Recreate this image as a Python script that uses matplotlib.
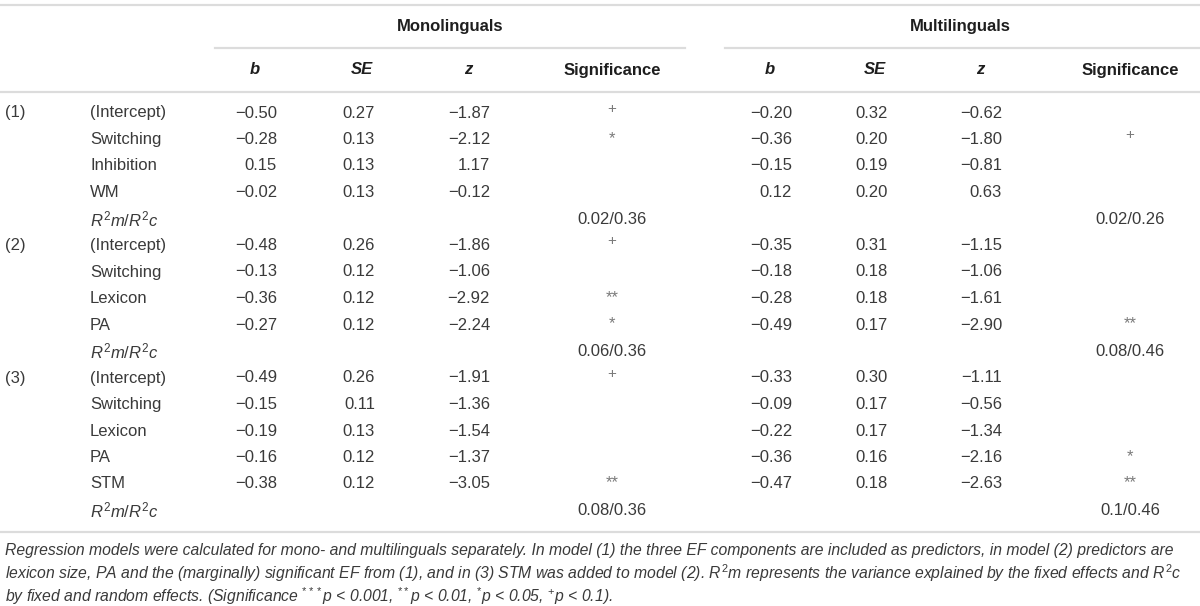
import matplotlib
matplotlib.use("Agg")
from matplotlib import pyplot as plt

plt.rcParams['font.family'] = ['Liberation Sans', 'DejaVu Sans']
plt.rcParams['mathtext.fontset'] = 'custom'
plt.rcParams['mathtext.rm'] = 'Liberation Sans'
plt.rcParams['mathtext.it'] = 'Liberation Sans:italic'
plt.rcParams['mathtext.bf'] = 'Liberation Sans:bold'

# table content
groups = ["Monolinguals", "Multilinguals"]
col_headers = ["b", "SE", "z", "Significance"]
model_labels = ["(1)", "", "", "", "", "(2)", "", "", "", "", "(3)", "", "", "", "", ""]
predictors = ["(Intercept)", "Switching", "Inhibition", "WM", "R2",
              "(Intercept)", "Switching", "Lexicon", "PA", "R2",
              "(Intercept)", "Switching", "Lexicon", "PA", "STM", "R2"]
mono_b = [-0.50, -0.28, 0.15, -0.02, None, -0.48, -0.13, -0.36, -0.27, None,
          -0.49, -0.15, -0.19, -0.16, -0.38, None]
mono_se = [0.27, 0.13, 0.13, 0.13, None, 0.26, 0.12, 0.12, 0.12, None,
           0.26, 0.11, 0.13, 0.12, 0.12, None]
mono_z = [-1.87, -2.12, 1.17, -0.12, None, -1.86, -1.06, -2.92, -2.24, None,
          -1.91, -1.36, -1.54, -1.37, -3.05, None]
mono_sig = ["+", "*", "", "", "0.02/0.36", "+", "", "**", "*", "0.06/0.36",
            "+", "", "", "", "**", "0.08/0.36"]
multi_b = [-0.20, -0.36, -0.15, 0.12, None, -0.35, -0.18, -0.28, -0.49, None,
           -0.33, -0.09, -0.22, -0.36, -0.47, None]
multi_se = [0.32, 0.20, 0.19, 0.20, None, 0.31, 0.18, 0.18, 0.17, None,
            0.30, 0.17, 0.17, 0.16, 0.18, None]
multi_z = [-0.62, -1.80, -0.81, 0.63, None, -1.15, -1.06, -1.61, -2.90, None,
           -1.11, -0.56, -1.34, -2.16, -2.63, None]
multi_sig = ["", "+", "", "", "0.02/0.26", "", "", "", "**", "0.08/0.46",
             "", "", "", "*", "**", "0.1/0.46"]

footnote = [
    "Regression models were calculated for mono- and multilinguals separately. In model (1) the three EF components are included as predictors, in model (2) predictors are",
    r"lexicon size, PA and the (marginally) significant EF from (1), and in (3) STM was added to model (2). $R^2m$ represents the variance explained by the fixed effects and $R^2c$",
    r"by fixed and random effects. (Significance $^{***}p$ < 0.001, $^{**}p$ < 0.01, $^{*}p$ < 0.05, $^{+}p$ < 0.1).",
]

TXT = '#3a3a3a'
HEAD = '#1e1e1e'
LINE = '#dcdcdc'
FS = 12


def fmt(v):
    return f"{v:.2f}".replace("-", "\u2212")


fig = plt.figure(figsize=(12, 6.06), dpi=100)
ax = fig.add_axes([0, 0, 1, 1])
ax.set_xlim(0, 1200)
ax.set_ylim(606, 0)
ax.axis('off')

# rules
ax.plot([0, 1200], [5, 5], color=LINE, lw=1.6)
ax.plot([215, 685], [48, 48], color=LINE, lw=1.6)
ax.plot([725, 1200], [48, 48], color=LINE, lw=1.6)
ax.plot([0, 1200], [92, 92], color=LINE, lw=1.6)
ax.plot([0, 1200], [532, 532], color=LINE, lw=1.6)

# group headers
ax.text(450, 27, groups[0], ha='center', va='center', fontsize=FS, fontweight='bold', color=HEAD)
ax.text(960, 27, groups[1], ha='center', va='center', fontsize=FS, fontweight='bold', color=HEAD)

# column headers
head_x = [[255, 362, 468, 612], [770, 875, 980, 1130]]
for xs in head_x:
    for x, h in zip(xs, col_headers):
        style = 'normal' if h == "Significance" else 'italic'
        ax.text(x, 70, h, ha='center', va='center', fontsize=FS, fontweight='bold',
                fontstyle=style, color=HEAD)

right_x = [[277, 375, 490, 612], [792, 888, 1002, 1130]]
y0, dy = 113, 26.5
for i in range(len(predictors)):
    y = y0 + i * dy
    if model_labels[i]:
        ax.text(5, y, model_labels[i], ha='left', va='center', fontsize=FS, color=TXT)
    if predictors[i] == "R2":
        ax.text(90, y, r"$R^2m/R^2c$", ha='left', va='center', fontsize=FS, color=TXT)
    else:
        ax.text(90, y, predictors[i], ha='left', va='center', fontsize=FS, color=TXT)
    for xs, vals in zip(right_x, [(mono_b, mono_se, mono_z, mono_sig),
                                  (multi_b, multi_se, multi_z, multi_sig)]):
        for x, col in zip(xs[:3], vals[:3]):
            if col[i] is not None:
                ax.text(x, y, fmt(col[i]), ha='right', va='center', fontsize=FS, color=TXT)
        s = vals[3][i]
        if "/" in s:
            ax.text(xs[3], y, s, ha='center', va='center', fontsize=FS, color=TXT)
        elif s == "+":
            ax.text(xs[3], y - 4, s, ha='center', va='center', fontsize=11,
                    color='#7a7a7a', fontweight='light')
        elif s:
            ax.text(xs[3], y - 1, s, ha='center', va='center', fontsize=12, color='#7a7a7a')

for k, line in enumerate(footnote):
    ax.text(5, 551 + k * 22.5, line, ha='left', va='center', fontsize=11.3,
            fontstyle='italic', color=TXT)

fig.savefig("out.png", dpi=100)
